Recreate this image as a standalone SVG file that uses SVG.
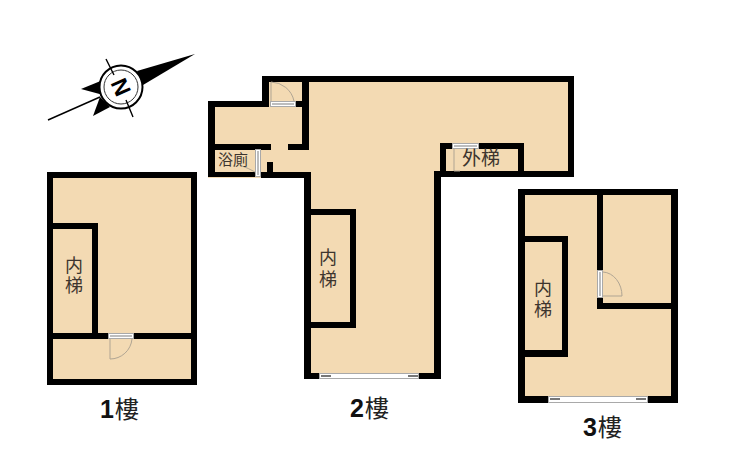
<svg xmlns="http://www.w3.org/2000/svg" width="730" height="460" viewBox="0 0 730 460">
<defs>
<style>
.floor{fill:#f3dab3;stroke:none}
.wall{fill:#000;stroke:none}
.opening{fill:#fff;stroke:#a9a9a9;stroke-width:1}
.pane{fill:#bdbdbd;stroke:none}
.mull{fill:#777;stroke:none}
.swing{fill:none;stroke:#b0a593;stroke-width:1}
.room{font-family:"Noto Sans CJK TC","Noto Sans CJK SC",sans-serif;font-size:18px;fill:#3d352e;text-anchor:middle}
.vert{writing-mode:vertical-rl;text-anchor:start}
.level{font-family:"Liberation Sans","Noto Sans CJK TC",sans-serif;fill:#111;text-anchor:start}
.level .n{font-weight:700;font-size:25px}
.level .c{font-family:"Noto Sans CJK TC","Noto Sans CJK SC",sans-serif;font-weight:400;font-size:24px;fill:#222}
</style>
</defs>
<rect width="730" height="460" fill="#fff"/>
<g id="compass">
<path d="M195 54L137 71L143 85Z" fill="#000"/>
<path d="M81 89L103 80L107 96Z" fill="#000"/>
<path d="M93 116L100 97L110 107Z" fill="#000"/>
<path d="M48 120L100 97" fill="none" stroke="#000" stroke-width="1.4"/>
<circle cx="121" cy="87" r="21.500" fill="#fff" stroke="#000" stroke-width="2"/>
<circle cx="121" cy="87" r="17" fill="#fff" stroke="#333" stroke-width="1"/>
<path d="M106 59L114 75M126 100L133 117" fill="none" stroke="#000" stroke-width="1.4"/>
<text x="121" y="87" transform="rotate(66 121 87)" dy="8" text-anchor="middle" font-family="Liberation Sans, sans-serif" font-weight="700" font-size="23" fill="#000">N</text>
</g>
<g id="floor-1">
<rect class="floor" x="47" y="172" width="150" height="213"/>
<path class="wall" fill-rule="evenodd" d="M47 172H197V385H47ZM53 178V379H191V178Z"/>
<path class="wall" d="M53 223H98V333H108V339H53V333H92V229H53ZM134 333H191V339H134Z"/>
<rect class="opening" x="108.500" y="333.500" width="25" height="5"/>
<rect class="pane" x="110" y="335" width="22" height="2"/>
<path class="swing" d="M110 339V359A22 22 0 0 0 132 339"/>
<text class="room vert" x="74" y="256" letter-spacing="2">内梯</text>
<text class="level" x="100" y="418"><tspan class="n">1</tspan><tspan class="c" dx="1">樓</tspan></text>
</g>
<g id="floor-2">
<path class="floor" d="M262 76H574V177H441V379H304V178H208V101H262Z"/>
<path class="wall" d="M262 76H574V177H441V379H419V373H434V171H524V143H479V149H518V171H446V149H452V143H440V171H568V82H309V150H288V144H302V107H296V101H302V82H269V107H215V144H271V150H215V172H255V177H208V101H262Z"/>
<path class="wall" d="M261 172H311V373H319V379H304V178H261ZM267 162H273V172H267Z"/>
<path class="wall" d="M310 209H356V328H310V322H350V215H310Z"/>
<rect class="opening" x="270.500" y="101.500" width="25" height="5"/>
<rect class="pane" x="272" y="103" width="22" height="2"/>
<path class="swing" d="M271 101V82A24 24 0 0 1 294 101"/>
<rect class="opening" x="255.500" y="149.500" width="5" height="27"/>
<rect class="pane" x="257" y="151" width="2" height="24"/>
<path class="swing" d="M255 172Q248 168 242 166"/>
<rect class="opening" x="452.500" y="143.500" width="26" height="5"/>
<rect class="pane" x="454" y="145" width="23" height="2"/>
<path class="swing" d="M454 149V171H460"/>
<rect class="opening" x="319.500" y="373.500" width="99" height="5"/>
<rect class="mull" x="321" y="375" width="10" height="2"/>
<rect class="mull" x="408" y="375" width="10" height="2"/>
<text class="room" x="233" y="165" style="font-size:15px">浴廁</text>
<text class="room" x="481" y="165" style="font-size:19px">外梯</text>
<text class="room vert" x="328" y="248" letter-spacing="4">内梯</text>
<text class="level" x="350" y="417"><tspan class="n">2</tspan><tspan class="c" dx="1">樓</tspan></text>
</g>
<g id="floor-3">
<rect class="floor" x="518" y="189" width="160" height="214"/>
<path class="wall" fill-rule="evenodd" d="M518 189H678V403H648V396H671V195H525V396H548V403H518Z"/>
<path class="wall" d="M525 236H568V357H525V350H562V242H525Z"/>
<path class="wall" d="M597 195H603V270H597ZM597 298H603V303H671V309H597Z"/>
<rect class="opening" x="597.500" y="270.500" width="5" height="27"/>
<rect class="pane" x="599" y="272" width="2" height="24"/>
<path class="swing" d="M603 272A20 24 0 0 1 622 296H603"/>
<rect class="opening" x="548.500" y="396.500" width="99" height="6"/>
<rect class="mull" x="550" y="398" width="10" height="2"/>
<rect class="mull" x="636" y="398" width="10" height="2"/>
<text class="room vert" x="543" y="279" letter-spacing="3">内梯</text>
<text class="level" x="583" y="436"><tspan class="n">3</tspan><tspan class="c" dx="1">樓</tspan></text>
</g>
</svg>
